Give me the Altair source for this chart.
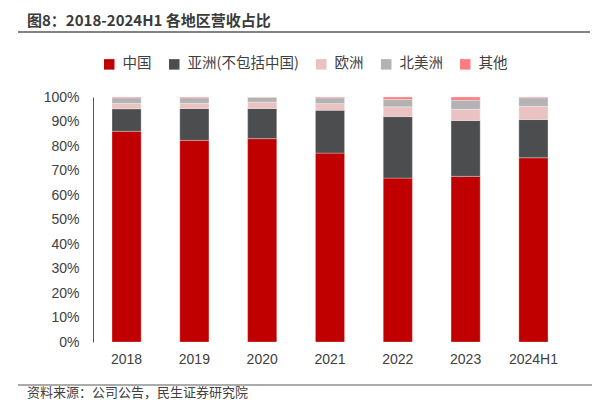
import altair as alt
import pandas as pd

years = ["2018", "2019", "2020", "2021", "2022", "2023", "2024H1"]
series = ["中国", "亚洲(不包括中国)", "欧洲", "北美洲", "其他"]
china = [86.0, 82.3, 83.0, 77.1, 66.9, 67.6, 75.2]
asia = [9.2, 13.0, 12.3, 17.5, 25.1, 22.8, 15.6]
europe = [2.2, 2.1, 2.6, 2.7, 4.0, 4.6, 5.4]
namerica = [2.3, 2.3, 2.0, 2.4, 3.0, 3.7, 3.5]
other = [0.3, 0.3, 0.1, 0.3, 1.0, 1.3, 0.3]
colors = ["#C00000", "#4B4D4F", "#EBC2C2", "#B3B3B3", "#FF7C80"]

title_text = "图8：2018-2024H1 各地区营收占比"
source_text = "资料来源：公司公告，民生证券研究院"

rows = []
for i, y in enumerate(years):
    for k, (name, vals) in enumerate(zip(series, [china, asia, europe, namerica, other])):
        rows.append({"year": y, "region": name, "value": vals[i], "idx": k})
df = pd.DataFrame(rows)

FONT = "Liberation Sans, Noto Sans CJK SC, sans-serif"
CJK = "Noto Sans CJK SC, Liberation Sans, sans-serif"

bars = alt.Chart(df).mark_bar(stroke="#ffffff", strokeWidth=0.6, strokeOpacity=0.5).encode(
    x=alt.X("year:N", sort=years, title=None,
            scale=alt.Scale(paddingInner=0.57, paddingOuter=0.28),
            axis=alt.Axis(labelAngle=0, labelFont=FONT, labelFontSize=14, labelColor="#404040",
                          ticks=False, domain=False, labelPadding=10)),
    y=alt.Y("value:Q", stack="zero", title=None,
            scale=alt.Scale(domain=[0, 100], nice=False),
            axis=alt.Axis(values=list(range(0, 101, 10)), labelExpr="datum.value + '%'",
                          labelFont=FONT, labelFontSize=14, labelColor="#404040",
                          ticks=False, grid=False, domainColor="#595959", domainWidth=1,
                          labelPadding=14)),
    color=alt.Color("region:N", sort=series,
                    scale=alt.Scale(domain=series, range=colors),
                    legend=alt.Legend(title=None, orient="none", direction="horizontal",
                                      legendX=9, legendY=-40, symbolType="square",
                                      symbolSize=110, symbolStrokeWidth=0,
                                      labelFont=CJK, labelFontSize=14.5, labelColor="#404040",
                                      columnPadding=15, symbolOffset=0, labelOffset=6)),
    order=alt.Order("idx:Q", sort="ascending"),
)

tdf = pd.DataFrame({"t": [title_text]})
title = alt.Chart(tdf).mark_text(align="left", baseline="alphabetic", font=CJK,
                                 fontSize=15, fontWeight="bold", color="#3a3a3a").encode(
    text="t:N", x=alt.value(-66), y=alt.value(-71))
title_rule = alt.Chart(tdf).mark_rule(color="#595959", strokeWidth=1.5).encode(
    x=alt.value(-75), x2=alt.value(497), y=alt.value(-65))

sdf = pd.DataFrame({"t": [source_text]})
source = alt.Chart(sdf).mark_text(align="left", baseline="alphabetic", font=CJK,
                                  fontSize=13, color="#404040").encode(
    text="t:N", x=alt.value(-66), y=alt.value(300))
source_rule = alt.Chart(sdf).mark_rule(color="#595959", strokeWidth=1.2).encode(
    x=alt.value(-75), x2=alt.value(510), y=alt.value(288))

chart = alt.layer(bars, title, title_rule, source, source_rule).properties(
    width=474, height=245,
    autosize=alt.AutoSizeParams(type="none"),
    padding={"left": 85, "top": 89, "right": 25, "bottom": 58},
).configure_view(stroke=None)

chart.save("out.html", embed_options={"renderer": "svg", "actions": False})
